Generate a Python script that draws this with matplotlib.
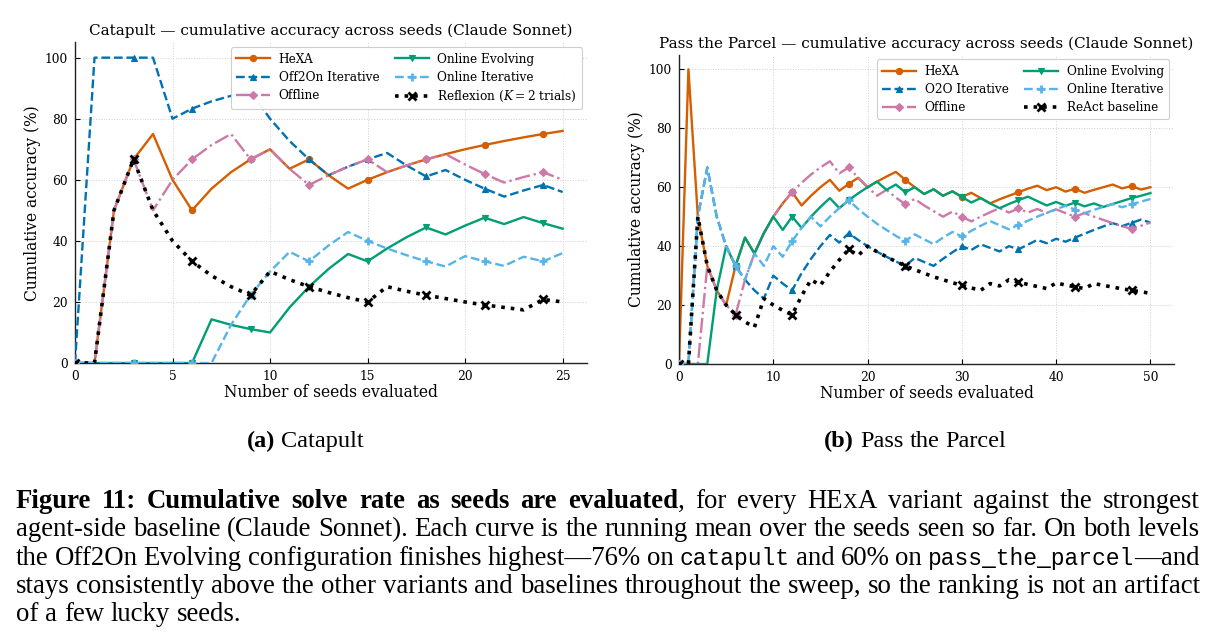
import matplotlib
matplotlib.use("Agg")
import matplotlib.pyplot as plt

plt.rcParams['font.family'] = ['DejaVu Serif']
plt.rcParams['mathtext.fontset'] = 'dejavuserif'

# ---------------- data: Catapult (25 seeds) ----------------
cat_seeds = list(range(26))
cat_hexa = [0, 0, 50, 66.7, 75, 60, 50, 57.1, 62.5, 66.7, 70, 63.6, 66.7, 61.5, 57.1, 60,
            62.5, 64.7, 66.7, 68.4, 70, 71.4, 72.7, 73.9, 75, 76]
cat_off2on = [0, 100, 100, 100, 100, 80, 83.3, 85.7, 87.5, 88.9, 80, 72.7, 66.7, 61.5, 64.3, 66.7,
              68.8, 64.7, 61.1, 63.2, 60, 57.1, 54.5, 56.5, 58.3, 56]
cat_offline = [0, 0, 50, 66.7, 50, 60, 66.7, 71.4, 75, 66.7, 70, 63.6, 58.3, 61.5, 64.3, 66.7,
               62.5, 64.7, 66.7, 68.4, 65, 61.9, 59.1, 60.9, 62.5, 60]
cat_online_evo = [0, 0, 0, 0, 0, 0, 0, 14.3, 12.5, 11.1, 10, 18.2, 25, 30.8, 35.7, 33.3,
                  37.5, 41.2, 44.4, 42.1, 45, 47.6, 45.5, 47.8, 45.8, 44]
cat_online_iter = [0, 0, 0, 0, 0, 0, 0, 0, 12.5, 22.2, 30, 36.4, 33.3, 38.5, 42.9, 40,
                   37.5, 35.3, 33.3, 31.6, 35, 33.3, 31.8, 34.8, 33.3, 36]
cat_reflexion = [0, 0, 50, 66.7, 50, 40, 33.3, 28.6, 25, 22.2, 30, 27.3, 25, 23.1, 21.4, 20,
                 25, 23.5, 22.2, 21.1, 20, 19, 18.2, 17.4, 20.8, 20]
cat_labels = ["HeXA", "Off2On Iterative", "Offline", "Online Evolving", "Online Iterative",
              "Reflexion ($K=2$ trials)"]

# ---------------- data: Pass the Parcel (50 seeds) ----------------
pp_seeds = list(range(51))
pp_hexa = [0, 100, 50, 33.3, 25, 20, 33.3, 42.9, 37.5, 44.4, 50, 54.5, 58.3, 53.8, 57.1, 60,
           62.5, 58.8, 61.1, 63.2, 60, 61.9, 63.6, 65.2, 62.5, 60, 57.7, 59.3, 57.1, 58.6, 56.7,
           58.1, 56.3, 54.5, 55.9, 57.1, 58.3, 59.5, 60.5, 59, 60, 58.5, 59.5, 58.1, 59.1, 60,
           60.9, 59.6, 60.4, 59.2, 60]
pp_o2o = [0, 0, 50, 66.7, 50, 40, 33.3, 28.6, 25, 22.2, 30, 27.3, 25, 30.8, 35.7, 40,
          43.8, 41.2, 44.4, 42.1, 40, 38.1, 36.4, 34.8, 33.3, 36, 34.6, 33.3, 35.7, 37.9, 40,
          38.7, 40.6, 39.4, 38.2, 40, 38.9, 40.5, 42.1, 41, 42.5, 41.5, 42.9, 44.2, 45.5, 46.7,
          47.8, 46.8, 47.9, 49, 48]
pp_offline = [0, 0, 0, 33.3, 25, 20, 16.7, 28.6, 37.5, 44.4, 50, 54.5, 58.3, 61.5, 64.3, 66.7,
              68.8, 64.7, 66.7, 63.2, 60, 57.1, 59.1, 56.5, 54.2, 56, 53.8, 51.9, 50, 51.7, 50,
              48.4, 50, 51.5, 52.9, 51.4, 52.8, 51.4, 52.6, 51.3, 52.5, 51.2, 50, 51.2, 50, 48.9,
              47.8, 46.8, 45.8, 46.9, 48]
pp_online_evo = [0, 0, 0, 0, 25, 40, 33.3, 42.9, 37.5, 44.4, 50, 45.5, 50, 46.2, 50, 53.3,
                 56.3, 52.9, 55.6, 57.9, 60, 61.9, 59.1, 60.9, 58.3, 60, 57.7, 59.3, 57.1, 58.6, 56.7,
                 54.8, 56.3, 54.5, 52.9, 54.3, 55.6, 56.8, 55.3, 53.8, 55, 53.7, 54.8, 53.5, 54.5, 53.3,
                 54.3, 55.3, 56.3, 57.1, 58]
pp_online_iter = [0, 0, 50, 66.7, 50, 40, 33.3, 28.6, 37.5, 33.3, 40, 36.4, 41.7, 46.2, 50, 46.7,
                  50, 52.9, 55.6, 52.6, 50, 47.6, 45.5, 43.5, 41.7, 44, 42.3, 40.7, 42.9, 44.8, 43.3,
                  45.2, 46.9, 48.5, 47.1, 45.7, 47.2, 48.6, 50, 51.3, 52.5, 53.7, 52.4, 51.2, 52.3, 53.3,
                  54.3, 53.2, 54.2, 55.1, 56]
pp_react = [0, 0, 50, 33.3, 25, 20, 16.7, 14.3, 12.5, 22.2, 20, 18.2, 16.7, 23.1, 28.6, 26.7,
            31.3, 35.3, 38.9, 36.8, 40, 38.1, 36.4, 34.8, 33.3, 32, 30.8, 29.6, 28.6, 27.6, 26.7,
            25.8, 25, 27.3, 26.5, 28.6, 27.8, 27, 26.3, 25.6, 27.5, 26.8, 26.2, 25.6, 27.3, 26.7,
            26.1, 25.5, 25, 24.5, 24]
pp_labels = ["HeXA", "O2O Iterative", "Offline", "Online Evolving", "Online Iterative",
             "ReAct baseline"]

x_ticks_cat = [0, 5, 10, 15, 20, 25]
x_ticks_pp = [0, 10, 20, 30, 40, 50]
y_ticks = [0, 20, 40, 60, 80, 100]

# ---------------- styles ----------------
colors = ['#D55E00', '#0072B2', '#CC79A7', '#009E73', '#56B4E9', 'black']
lstyles = ['-', '--', '-.', '-', '--', ':']
markers = ['o', '^', 'D', 'v', '+', 'x']
msizes = [4.5, 4.5, 4.5, 4.5, 6, 6]
lws = [1.7, 1.7, 1.7, 1.7, 1.7, 2.6]

W, H = 1219, 640
fig = plt.figure(figsize=(W / 100, H / 100), dpi=100)


def make_panel(rect, seeds, series, labels, xticks, xmax, every, title):
    ax = fig.add_axes(rect)
    for i, (ys, lab) in enumerate(zip(series, labels)):
        ax.plot(seeds, ys, color=colors[i], linestyle=lstyles[i], lw=lws[i],
                marker=markers[i], markersize=msizes[i], markevery=every,
                markeredgewidth=(2.0 if markers[i] in ('x', '+') else 0.8),
                label=lab, zorder=2 + i)
    ax.set_xlim(0, xmax)
    ax.set_ylim(0, 105)
    ax.set_xticks(xticks)
    ax.set_yticks(y_ticks)
    ax.grid(True, linestyle=':', color='#d0d0d0', lw=0.7)
    for s in ('top', 'right'):
        ax.spines[s].set_visible(False)
    for s in ('left', 'bottom'):
        ax.spines[s].set_linewidth(1.0)
        ax.spines[s].set_color('#222222')
    ax.tick_params(direction='in', length=3.5, width=0.8, labelsize=8.8, pad=5)
    ax.set_xlabel("Number of seeds evaluated", fontsize=11.2, labelpad=1)
    ax.set_ylabel("Cumulative accuracy (%)", fontsize=11.2, labelpad=3)
    ax.set_title(title, fontsize=11.0, pad=5)
    leg = ax.legend(loc='upper right', ncol=2, fontsize=8.7, handlelength=2.8,
                    handletextpad=0.7, columnspacing=1.3, labelspacing=0.42,
                    borderpad=0.45, borderaxespad=0.4, frameon=True, fancybox=True,
                    framealpha=0.95, edgecolor='#cccccc')
    leg.get_frame().set_linewidth(0.8)
    return ax


make_panel([75 / W, 1 - 363 / H, 512 / W, (363 - 42.4) / H], cat_seeds,
           [cat_hexa, cat_off2on, cat_offline, cat_online_evo, cat_online_iter, cat_reflexion],
           cat_labels, x_ticks_cat, 26.25, 3,
           "Catapult \u2014 cumulative accuracy across seeds (Claude Sonnet)")
make_panel([679 / W, 1 - 364 / H, 495 / W, (364 - 54.6) / H], pp_seeds,
           [pp_hexa, pp_o2o, pp_offline, pp_online_evo, pp_online_iter, pp_react],
           pp_labels, x_ticks_pp, 52.5, 6,
           "Pass the Parcel \u2014 cumulative accuracy across seeds (Claude Sonnet)")

# ---------------- captions (justified text) ----------------
cap_fs = 19.3
STY = {
    'r': dict(family='Liberation Serif', size=cap_fs),
    'b': dict(family='Liberation Serif', size=cap_fs, weight='bold'),
    'm': dict(family='Liberation Mono', size=cap_fs * 0.86),
    'sc': dict(family='Liberation Serif', size=cap_fs * 0.76),
    'sr': dict(family='Liberation Serif', size=17.5),
    'sb': dict(family='Liberation Serif', size=17.5, weight='bold'),
}

renderer = fig.canvas.get_renderer()


def text_width(txt, st):
    t = fig.text(0, 0, txt, **STY[st])
    w = t.get_window_extent(renderer).width
    t.remove()
    return w


def tokenize(segs):
    words = [[]]
    for txt, st in segs:
        parts = txt.split(' ')
        for i, p in enumerate(parts):
            if i > 0:
                words.append([])
            if p:
                words[-1].append((p, st))
    return [w for w in words if w]


def place_line(segs, ybase, x0=16, x1=1200, mode='justify', center=None):
    words = tokenize(segs)
    widths = [[text_width(p, st) for p, st in w] for w in words]
    total = sum(sum(ws) for ws in widths)
    n = len(words) - 1
    st0 = segs[-1][1]
    space_w = text_width('a a', st0) - text_width('aa', st0)
    if mode == 'justify' and n > 0:
        gap = max((x1 - x0 - total) / n, 0.6 * space_w)
    else:
        gap = space_w
    if mode == 'center':
        x = center - (total + gap * n) / 2
    else:
        x = x0
    for w, ws in zip(words, widths):
        for (p, st), wd in zip(w, ws):
            fig.text(x / W, 1 - ybase / H, p, ha='left', va='baseline', **STY[st])
            x += wd
        x += gap


place_line([('(a)', 'sb'), (' Catapult', 'sr')], 447, mode='center', center=305)
place_line([('(b)', 'sb'), (' Pass the Parcel', 'sr')], 447, mode='center', center=915)

cap_lines = [
    [('Figure 11: Cumulative solve rate as seeds are evaluated', 'b'), (', for every ', 'r'),
     ('HE', 'r'), ('X', 'sc'), ('A', 'r'), (' variant against the strongest', 'r')],
    [('agent-side baseline (Claude Sonnet). Each curve is the running mean over the seeds '
      'seen so far. On both levels', 'r')],
    [('the Off2On Evolving configuration finishes highest\u201476% on ', 'r'), ('catapult', 'm'),
     (' and 60% on ', 'r'), ('pass_the_parcel', 'm'), ('\u2014and', 'r')],
    [('stays consistently above the other variants and baselines throughout the sweep, so the '
      'ranking is not an artifact', 'r')],
    [('of a few lucky seeds.', 'r')],
]
baselines = [508, 536.5, 565, 593, 621]
for i, (segs, yb) in enumerate(zip(cap_lines, baselines)):
    place_line(segs, yb, mode='justify' if i < 4 else 'left')

fig.savefig("out.png", dpi=100)
